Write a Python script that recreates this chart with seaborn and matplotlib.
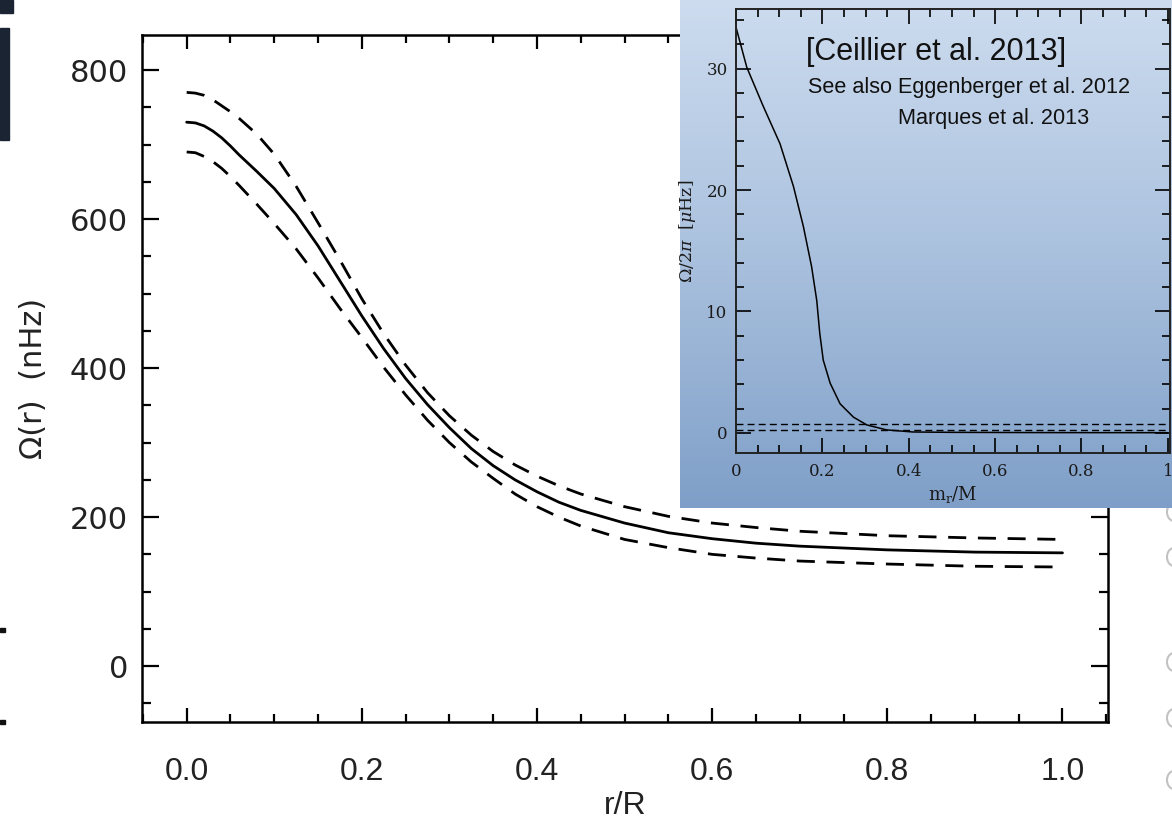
import numpy as np
import pandas as pd
import matplotlib
matplotlib.use("Agg")
import matplotlib.pyplot as plt
import seaborn as sns
from matplotlib import font_manager
from matplotlib.colors import LinearSegmentedColormap
from matplotlib.ticker import MultipleLocator
from matplotlib.patches import Rectangle, Arc

# ---------------- data ----------------
r_main = [0, 0.01, 0.02, 0.03, 0.04, 0.05, 0.06, 0.08, 0.1, 0.125, 0.15, 0.175,
          0.2, 0.225, 0.25, 0.275, 0.3, 0.325, 0.35, 0.375, 0.4, 0.425, 0.45,
          0.5, 0.55, 0.6, 0.65, 0.7, 0.8, 0.9, 1.0]
omega = [730, 729, 725, 718, 709, 698, 686, 664, 641, 606, 564, 517,
         470, 426, 386, 351, 320, 292, 269, 250, 234, 220, 209,
         192, 179, 171, 165, 161, 156, 153, 152]
omega_upper = [770, 769, 766, 760, 752, 744, 735, 714, 687, 644, 595, 545,
               493, 446, 404, 367, 336, 310, 288, 270, 255, 242, 231,
               214, 201, 192, 186, 181, 175, 172, 170]
omega_lower = [690, 689, 684, 677, 668, 657, 645, 620, 594, 560, 521, 480,
               441, 401, 364, 330, 300, 274, 252, 231, 214, 200, 188,
               170, 159, 150, 145, 141, 137, 134, 133]

x_ticks = [0.0, 0.2, 0.4, 0.6, 0.8, 1.0]
x_ticklabels = ["0.0", "0.2", "0.4", "0.6", "0.8", "1.0"]
y_ticks = [0, 200, 400, 600, 800]
y_ticklabels = ["0", "200", "400", "600", "800"]

m_inset = [0, 0.025, 0.063, 0.102, 0.133, 0.156, 0.175, 0.187, 0.194, 0.202,
           0.218, 0.241, 0.272, 0.303, 0.349, 0.41, 0.5, 0.7, 1.0]
omega_inset = [33.4, 30.1, 26.9, 23.8, 20.3, 17.0, 13.7, 10.9, 8.2, 6.0,
               4.1, 2.4, 1.3, 0.66, 0.25, 0.08, 0.05, 0.03, 0.02]
inset_dash_levels = [0.74, 0.25]
inset_dash_x = [0.0, 1.0]
inset_x_ticks = [0, 0.2, 0.4, 0.6, 0.8, 1]
inset_x_ticklabels = ["0", "0.2", "0.4", "0.6", "0.8", "1"]
inset_y_ticks = [0, 10, 20, 30]
inset_y_ticklabels = ["0", "10", "20", "30"]

title_text = "[Ceillier et al. 2013]"
note1 = "See also Eggenberger et al. 2012"
note2 = "Marques et al. 2013"

# ---------------- figure ----------------
sns.set_style("ticks")
plt.rcParams["font.family"] = ["DejaVu Sans"]
plt.rcParams["mathtext.fontset"] = "dejavuserif"

installed = {f.name for f in font_manager.fontManager.ttflist}
if "Liberation Sans Narrow" in installed:
    note_family, title_size, note_size = "Liberation Sans Narrow", 26, 19
else:
    note_family, title_size, note_size = "Liberation Sans", 22, 15.6

W, H = 1172, 822
fig = plt.figure(figsize=(W / 100, H / 100), dpi=100, facecolor="white")

def fx(px):
    return px / W

def fy(py):
    return 1 - py / H

# main axes: spines at x 142..1108, y 35..722
ax = fig.add_axes([fx(142), fy(722), fx(1108) - fx(142), fy(35) - fy(722)])
df = pd.DataFrame({"r": r_main, "mid": omega, "up": omega_upper, "lo": omega_lower})
sns.lineplot(data=df, x="r", y="mid", ax=ax, color="black", lw=2.0)
sns.lineplot(data=df, x="r", y="up", ax=ax, color="black", lw=2.0)
sns.lineplot(data=df, x="r", y="lo", ax=ax, color="black", lw=2.0)
for ln in ax.lines[1:]:
    ln.set_dashes((6.5, 4.2))

ax.set_xlim(-0.051, 1.052)
ax.set_ylim(-75, 847)
ax.set_xticks(x_ticks)
ax.set_xticklabels(x_ticklabels, family="Liberation Sans", fontsize=23)
ax.set_yticks(y_ticks)
ax.set_yticklabels(y_ticklabels, fontsize=22)
ax.xaxis.set_minor_locator(MultipleLocator(0.05))
ax.yaxis.set_minor_locator(MultipleLocator(50))
ax.tick_params(which="both", direction="in", top=True, right=True, width=1.6,
               colors="black", labelcolor="#222222")
ax.tick_params(axis="x", which="major", length=10, pad=25)
ax.tick_params(axis="x", which="minor", length=5.5)
ax.tick_params(axis="y", which="major", length=12, pad=10)
ax.tick_params(axis="y", which="minor", length=6.5)
for s in ax.spines.values():
    s.set_linewidth(1.8)
    s.set_color("black")
ax.set_xlabel("r/R", family="Liberation Sans", fontsize=23, labelpad=3, color="#222222")
ax.set_ylabel("Ω(r)  (nHz)", fontsize=22, labelpad=16, color="#222222")

# overlay in pixel coordinates for stray marks at the borders
ov = fig.add_axes([0, 0, 1, 1])
ov.set_xlim(0, W)
ov.set_ylim(H, 0)
ov.set_axis_off()
ov.patch.set_alpha(0)
ov.add_patch(Rectangle((0, 0), 13, 13, color="#1b2433"))
ov.add_patch(Rectangle((0, 28), 9, 112, color="#1b2433"))
for yy in [630, 722]:
    ov.add_patch(Rectangle((0, yy - 2), 5, 4, color="#111111"))
for yy in [512, 557, 662, 718, 780]:
    ov.add_patch(Arc((1174, yy), 14, 18, theta1=100, theta2=260,
                     color="#c2c2c2", lw=1.5))

# inset background with gradient
bg = fig.add_axes([fx(680), fy(508), fx(1172) - fx(680), 508 / H])
cmap = LinearSegmentedColormap.from_list("bg", ["#cddcef", "#aac1de", "#7f9fc8"])
bg.imshow(np.linspace(0, 1, 256).reshape(-1, 1), cmap=cmap, aspect="auto",
          extent=[0, 1, 0, 1], origin="upper")
bg.set_axis_off()

# inset axes: spines x 736..1170, y 9..453
ins = fig.add_axes([fx(736), fy(453), fx(1170) - fx(736), fy(9) - fy(453)])
ins.patch.set_alpha(0)
dfi = pd.DataFrame({"m": m_inset, "om": omega_inset})
sns.lineplot(data=dfi, x="m", y="om", ax=ins, color="black", lw=1.1)
for lev in inset_dash_levels:
    sns.lineplot(x=inset_dash_x, y=[lev, lev], ax=ins, color="black", lw=1.0)
    ins.lines[-1].set_dashes((5, 3))
ins.set_xlim(0, 1.005)
ins.set_ylim(-1.65, 34.9)
ins.set_xticks(inset_x_ticks)
ins.set_xticklabels(inset_x_ticklabels, family="DejaVu Serif", fontsize=12)
ins.set_yticks(inset_y_ticks)
ins.set_yticklabels(inset_y_ticklabels, family="DejaVu Serif", fontsize=12)
ins.xaxis.set_minor_locator(MultipleLocator(0.05))
ins.yaxis.set_minor_locator(MultipleLocator(2))
ins.tick_params(which="both", direction="in", top=True, right=True, width=1.2,
                colors="black", labelcolor="#1a1a1a")
ins.tick_params(which="major", length=11)
ins.tick_params(which="minor", length=5.5)
ins.tick_params(axis="x", which="major", pad=7)
ins.tick_params(axis="y", which="major", pad=6)
for s in ins.spines.values():
    s.set_linewidth(1.4)
    s.set_color("#222222")
ins.set_xlabel(r"$\mathrm{m_r/M}$", fontsize=13, labelpad=3, color="#1a1a1a")
ins.set_ylabel(r"$\Omega/2\pi\ \ [\mu\mathrm{Hz}]$", fontsize=12.5, labelpad=6,
               color="#1a1a1a")

fig.text(fx(806), fy(60), title_text, family=note_family, fontsize=title_size,
         color="#111111", va="baseline", ha="left")
fig.text(fx(808), fy(93), note1, family=note_family, fontsize=note_size,
         color="#111111", va="baseline", ha="left")
fig.text(fx(898), fy(124), note2, family=note_family, fontsize=note_size,
         color="#111111", va="baseline", ha="left")

fig.savefig("out.png", dpi=100, facecolor="white")
